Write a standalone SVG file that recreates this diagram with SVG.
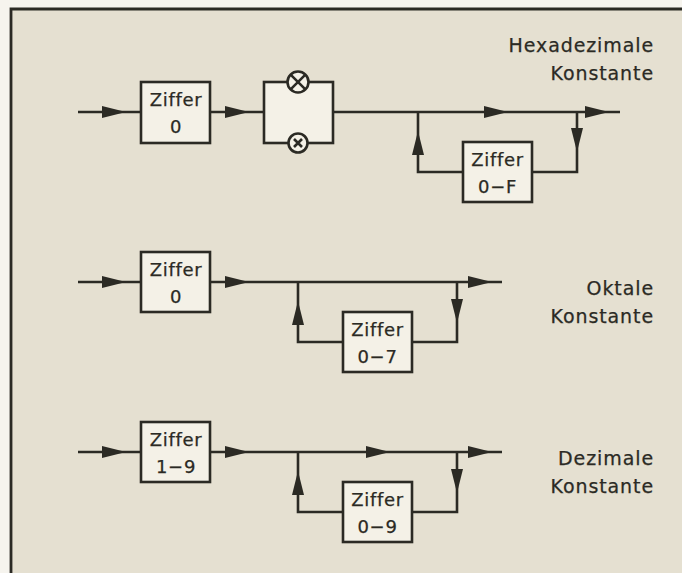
<svg xmlns="http://www.w3.org/2000/svg" width="682" height="573" viewBox="0 0 682 573">
<defs>
<style>
.ln{stroke:#2b2a24;stroke-width:2.6;fill:none}
.bx{stroke:#2b2a24;stroke-width:2.6;fill:#f4f1e7}
.t{font-family:"DejaVu Sans",sans-serif;font-size:18px;fill:#2b2a24;stroke:#2b2a24;stroke-width:0.25;letter-spacing:0.7px;text-anchor:middle}
.lb{font-family:"DejaVu Sans",sans-serif;font-size:19px;fill:#2b2a24;stroke:#2b2a24;stroke-width:0.25;letter-spacing:0.9px;text-anchor:end}
.ah{fill:#2b2a24}
</style>
<path id="ar" d="M-12,-6 L12,0 L-12,6 Z" class="ah"/>
</defs>
<rect x="0" y="0" width="682" height="573" fill="#f6f4ee"/>
<rect x="11" y="9" width="671" height="564" fill="#e5e0d1"/>
<path d="M11,573 V9 H682" stroke="#2b2a24" stroke-width="2.8" fill="none"/>

<g id="connectors">
<path class="ln" d="M78,112 H141 M210,112 H264 M333,112 H620 M418,112 V172 H463 M532,172 H577 V112"/>
<use href="#ar" x="114" y="112"/>
<use href="#ar" x="237" y="112"/>
<use href="#ar" x="496" y="112"/>
<use href="#ar" x="597" y="112"/>
<use href="#ar" transform="translate(418,143) rotate(-90)"/>
<use href="#ar" transform="translate(577,140) rotate(90)"/>
<path class="ln" d="M78,282 H141 M210,282 H502 M298,282 V342 H343 M412,342 H457 V282"/>
<use href="#ar" x="114" y="282"/>
<use href="#ar" x="237" y="282"/>
<use href="#ar" x="480" y="282"/>
<use href="#ar" transform="translate(298,313) rotate(-90)"/>
<use href="#ar" transform="translate(457,311) rotate(90)"/>
<path class="ln" d="M78,452 H141 M210,452 H502 M298,452 V512 H343 M412,512 H457 V452"/>
<use href="#ar" x="114" y="452"/>
<use href="#ar" x="237" y="452"/>
<use href="#ar" x="378" y="452"/>
<use href="#ar" x="480" y="452"/>
<use href="#ar" transform="translate(298,483) rotate(-90)"/>
<use href="#ar" transform="translate(457,481) rotate(90)"/>
</g>

<g id="hex-ziffer0">
<rect class="bx" x="141" y="82" width="69" height="61"/>
<text class="t" x="176" y="106">Ziffer</text>
<text class="t" x="176" y="133">0</text>
</g>
<g id="hex-prefix">
<rect class="bx" x="264" y="82" width="69" height="61"/>
<circle class="bx" cx="298" cy="82" r="10.5"/>
<path class="ln" d="M290.6,74.6 L305.4,89.4 M305.4,74.6 L290.6,89.4" stroke-width="2"/>
<circle class="bx" cx="298" cy="143" r="9.5"/>
<path class="ln" d="M294,139 L302,147 M302,139 L294,147" stroke-width="2"/>
</g>
<g id="hex-ziffer0F">
<rect class="bx" x="463" y="142" width="69" height="60"/>
<text class="t" x="497.5" y="166">Ziffer</text>
<text class="t" x="497.5" y="193">0−F</text>
</g>
<g id="hex-label">
<text class="lb" x="654" y="52">Hexadezimale</text>
<text class="lb" x="654" y="80">Konstante</text>
</g>

<g id="okt-ziffer0">
<rect class="bx" x="141" y="252" width="69" height="60"/>
<text class="t" x="176" y="276">Ziffer</text>
<text class="t" x="176" y="303">0</text>
</g>
<g id="okt-ziffer07">
<rect class="bx" x="343" y="312" width="69" height="60"/>
<text class="t" x="377.5" y="336">Ziffer</text>
<text class="t" x="377.5" y="363">0−7</text>
</g>
<g id="okt-label">
<text class="lb" x="654" y="295">Oktale</text>
<text class="lb" x="654" y="323">Konstante</text>
</g>

<g id="dez-ziffer19">
<rect class="bx" x="141" y="422" width="69" height="60"/>
<text class="t" x="176" y="446">Ziffer</text>
<text class="t" x="176" y="473">1−9</text>
</g>
<g id="dez-ziffer09">
<rect class="bx" x="343" y="482" width="69" height="60"/>
<text class="t" x="377.5" y="506">Ziffer</text>
<text class="t" x="377.5" y="533">0−9</text>
</g>
<g id="dez-label">
<text class="lb" x="654" y="465">Dezimale</text>
<text class="lb" x="654" y="493">Konstante</text>
</g>
</svg>
